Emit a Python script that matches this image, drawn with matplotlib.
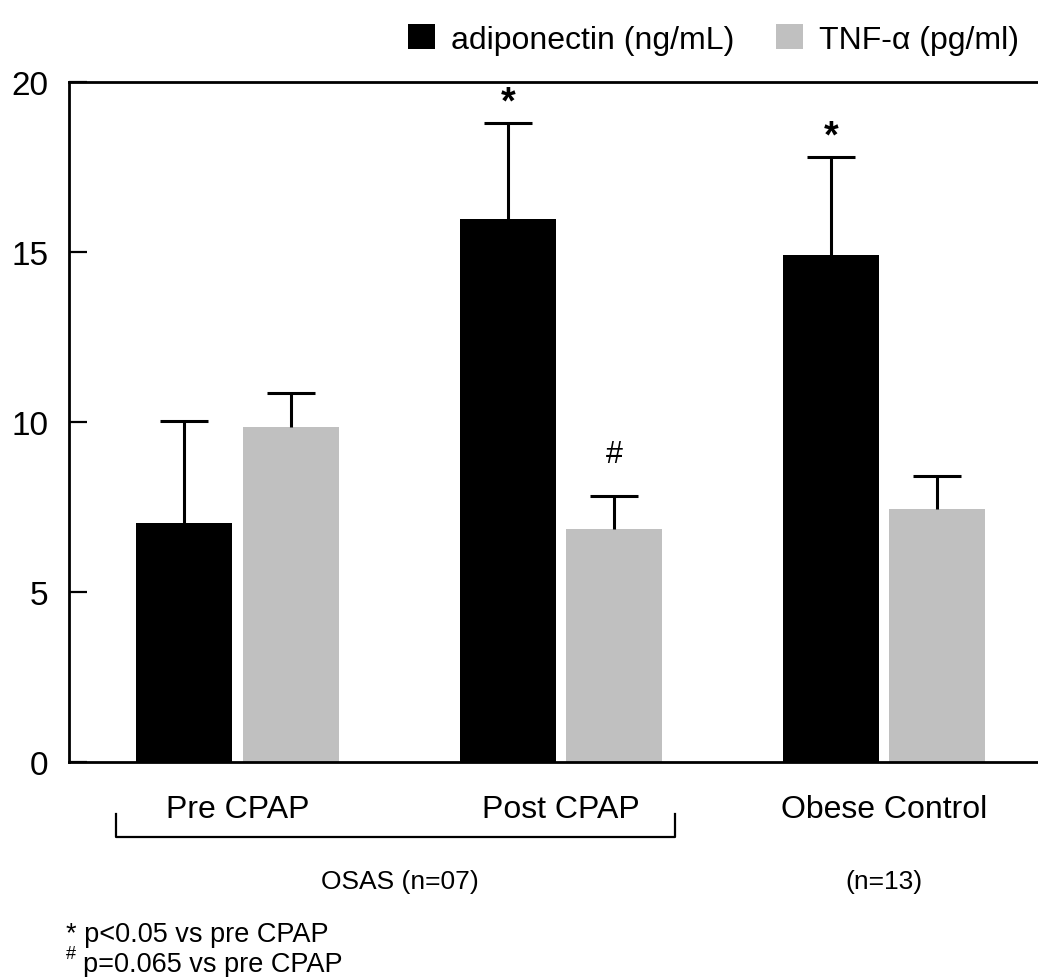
import numpy as np
import matplotlib.pyplot as plt

plt.rcParams['font.family'] = ['Liberation Sans', 'DejaVu Sans']

# ── data ───────────────────────────────────────────────────────────
groups = ['Pre CPAP', 'Post CPAP', 'Obese Control']
adipo_mean = [7.02, 15.97, 14.92]
adipo_err = [3.0, 2.82, 2.87]
tnf_mean = [9.86, 6.84, 7.43]
tnf_err = [0.98, 0.99, 0.99]
adipo_marks = ['', '*', '*']
tnf_marks = ['', '#', '']

W, H = 1038, 978
fig = plt.figure(figsize=(W / 100, H / 100), dpi=100)
ax = fig.add_axes([69 / W, 1 - 763 / H, 1 - 69 / W, 680 / H])

x = np.arange(len(groups))
bw = 0.297
off = 0.164

ax.bar(x - off, adipo_mean, bw, color='black', label='adiponectin (ng/mL)')
ax.bar(x + off, tnf_mean, bw, color='#c0c0c0', label='TNF-α (pg/ml)')

for xs, m, e in [(x - off, adipo_mean, adipo_err), (x + off, tnf_mean, tnf_err)]:
    eb = ax.errorbar(xs, m, yerr=[np.zeros(len(m)), e], fmt='none',
                     ecolor='black', elinewidth=2.2, capsize=17, capthick=2.2)
    eb[1][0].set_visible(False)   # hide lower caps

# significance marks
for xs, m, e, marks, dy, fs, fw in [(x - off, adipo_mean, adipo_err, adipo_marks, 2, 27, 'bold'),
                                    (x + off, tnf_mean, tnf_err, tnf_marks, 19, 22, 'normal')]:
    for xi, mi, ei, mk in zip(xs, m, e, marks):
        if mk:
            ax.annotate(mk, (xi, mi + ei), xytext=(0, dy), textcoords='offset points',
                        ha='center', va='bottom', fontsize=fs, fontweight=fw)

ax.set_xlim(-0.521, 2.475)
ax.set_ylim(0, 20)
ax.set_yticks([0, 5, 10, 15, 20])
ax.tick_params(axis='y', direction='in', length=13, width=1.6, pad=15, labelsize=24)
ax.set_xticks(x)
ax.set_xticklabels(groups)
ax.tick_params(axis='x', length=0, pad=23, labelsize=23)
ax.spines['right'].set_visible(False)
for s in ['left', 'top', 'bottom']:
    ax.spines[s].set_linewidth(2.0)

# OSAS bracket
bt = ax.get_xaxis_transform()
ax.plot([-0.376, -0.376, 1.352, 1.352], [-0.0765, -0.110, -0.110, -0.0765],
        color='black', lw=1.6, transform=bt, clip_on=False)

fig.text(400 / W, 1 - 882 / H, 'OSAS (n=07)', ha='center', va='center', fontsize=19)
fig.text(884 / W, 1 - 882 / H, '(n=13)', ha='center', va='center', fontsize=19)
fig.text(66 / W, 1 - 935 / H, '* p<0.05 vs pre CPAP', ha='left', va='center', fontsize=19.5)
fig.text(66 / W, 1 - 955 / H, '#', ha='left', va='center', fontsize=13)
fig.text(83 / W, 1 - 965 / H, 'p=0.065 vs pre CPAP', ha='left', va='center', fontsize=19.5)

fig.legend(loc='upper right', bbox_to_anchor=(1032 / W, 1 - 12 / H), ncol=2,
           frameon=False, fontsize=23, handlelength=0.85, handleheight=0.85,
           handletextpad=0.5, columnspacing=1.3, borderaxespad=0)

plt.savefig('out.png', dpi=100)
